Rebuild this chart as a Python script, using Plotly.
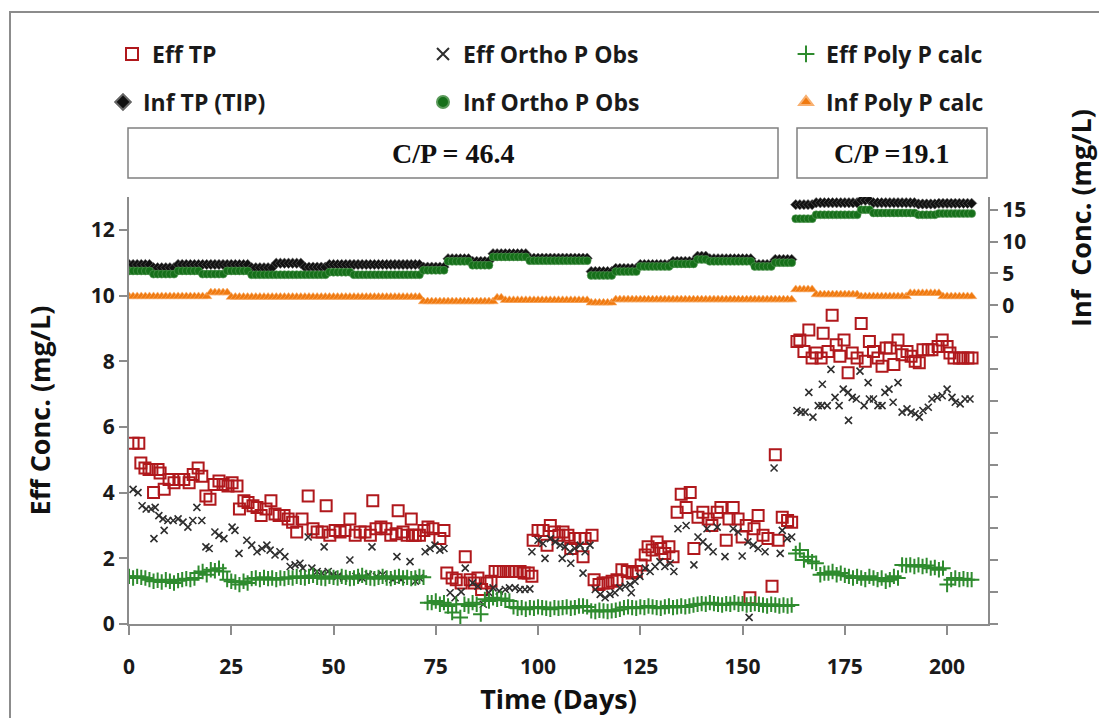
import plotly.graph_objects as go

# ---------------- data ----------------
DAYS = list(range(0, 207))

# Effluent total P (dark red open squares)
eff_tp_day = [1.0, 2.4, 2.9, 3.9, 4.9, 5.6, 6.0, 7.1, 7.6, 8.6, 9.8, 11.0, 12.2, 13.4, 14.7, 15.7, 16.9, 17.8, 18.8, 19.8,
              20.8, 22.0, 23.0, 24.2, 25.2, 26.4, 27.0, 28.1, 29.1, 30.3, 31.3, 32.3, 33.5, 34.7, 35.7, 36.7, 37.9, 38.9, 40.0, 41.0,
              42.3, 43.8, 45.0, 46.0, 47.2, 48.2, 49.1, 50.4, 51.6, 52.8, 54.0, 55.3, 56.5, 57.7, 59.0, 59.6, 60.4, 61.6, 62.8, 64.0,
              65.3, 65.8, 67.0, 68.0, 69.0, 69.3, 70.0, 71.0, 72.1, 73.1, 74.3, 76.0, 77.0, 77.7, 79.0, 80.0, 81.2, 82.2, 83.4, 84.4,
              85.3, 86.2, 87.5, 88.5, 89.5, 90.5, 91.5, 92.7, 93.6, 94.6, 95.6, 96.6, 97.6, 98.5, 98.8, 100.0, 101.2, 102.2, 103.0, 104.0,
              105.1, 106.1, 107.3, 108.0, 109.0, 110.3, 111.0, 111.5, 113.2, 113.7, 114.9, 115.9, 117.1, 118.1, 119.3, 120.5, 121.8, 123.0, 124.0, 125.2,
              126.2, 126.9, 127.9, 129.1, 130.0, 131.0, 132.0, 133.0, 134.0, 135.0, 136.2, 137.2, 138.1, 139.1, 140.3, 141.6, 142.5, 143.8, 144.7, 146.0,
              146.7, 147.7, 148.9, 149.9, 150.9, 151.8, 152.8, 153.8, 155.0, 156.2, 157.2, 158.0, 158.7, 159.7, 161.0, 162.0,
              163.3, 164.0, 165.0, 166.2, 167.0, 168.0, 169.2, 169.7, 170.9, 171.9, 172.9, 173.8, 174.8, 175.8, 176.8, 178.0, 179.0, 180.0, 181.0, 182.0,
              183.1, 184.1, 185.1, 186.1, 187.0, 188.0, 189.0, 190.2, 191.2, 192.2, 193.2, 194.1, 195.4, 196.3, 197.8, 198.8, 200.0, 200.7, 201.7, 203.0,
              203.9, 205.1, 206.1]
eff_tp_val = [5.5, 5.5, 4.9, 4.75, 4.7, 4.7, 4.0, 4.7, 4.6, 4.1, 4.4, 4.3, 4.4, 4.4, 4.3, 4.55, 4.75, 4.5, 3.9, 3.8,
              4.25, 4.35, 4.25, 4.2, 4.3, 4.2, 3.5, 3.75, 3.7, 3.6, 3.55, 3.3, 3.5, 3.75, 3.35, 3.3, 3.3, 3.2, 3.1, 2.8,
              3.2, 3.9, 2.9, 2.8, 2.8, 3.6, 2.7, 2.85, 2.8, 2.85, 3.2, 2.7, 2.8, 2.8, 2.7, 3.75, 2.9, 2.95, 2.9, 2.7,
              2.75, 3.45, 2.8, 2.7, 3.2, 2.7, 2.7, 2.7, 2.85, 2.95, 2.9, 2.6, 2.85, 1.55, 1.4, 1.35, 1.25, 2.05, 1.35, 1.25,
              1.4, 1.05, 1.25, 1.3, 1.6, 1.6, 1.6, 1.6, 1.6, 1.6, 1.6, 1.55, 1.55, 1.45, 2.55, 2.85, 2.85, 2.4, 3.0, 2.8,
              2.7, 2.8, 2.7, 2.3, 2.6, 2.6, 2.05, 2.6, 2.7, 1.35, 1.2, 1.25, 1.25, 1.3, 1.35, 1.65, 1.6, 1.55, 1.6, 1.8,
              2.1, 2.35, 2.25, 2.5, 2.3, 2.15, 2.35, 2.05, 3.4, 3.95, 3.55, 4.0, 2.3, 3.25, 3.4, 3.2, 3.0, 3.4, 3.55, 2.55,
              3.2, 3.55, 3.2, 2.65, 3.0, 0.8, 2.9, 3.3, 2.7, 2.6, 1.15, 5.15, 2.55, 3.25, 3.15, 3.1,
              8.6, 8.65, 8.3, 8.95, 8.1, 8.25, 8.1, 8.85, 8.3, 9.4, 8.5, 8.15, 8.65, 7.65, 8.25, 8.1, 9.15, 8.0, 8.6, 8.3,
              8.1, 7.85, 8.4, 8.4, 7.9, 8.65, 8.2, 8.3, 8.15, 8.0, 7.95, 8.35, 8.35, 8.35, 8.45, 8.65, 8.45, 8.25, 8.1, 8.1,
              8.1, 8.1, 8.1]

# Effluent ortho P observed (dark x)
eff_op_day = [1.0, 2.2, 3.2, 4.2, 5.4, 6.1, 6.4, 7.3, 8.3, 8.6, 9.5, 10.8, 12.0, 13.2, 14.4, 15.6, 16.6, 17.8, 18.8, 19.6,
              21.0, 22.0, 23.2, 25.2, 25.9, 26.9, 28.8, 30.0, 31.3, 32.5, 33.7, 34.5, 35.7, 36.9, 38.1, 39.4, 40.6, 41.8, 42.5, 43.8,
              44.7, 46.0, 47.2, 47.7, 48.7, 49.9, 51.0, 52.5, 54.0, 55.5, 57.0, 58.5, 59.4, 60.5, 62.0, 63.5, 64.5, 65.5, 66.5, 68.7,
              70.0, 71.0, 72.4, 73.6, 74.8, 76.0, 77.0, 78.5, 79.7, 81.2, 82.2, 84.0, 85.3, 86.6, 88.0, 89.0, 90.5, 92.0, 93.0, 94.4,
              95.6, 96.8, 98.0, 98.5, 100.0, 101.2, 101.7, 103.0, 104.2, 105.4, 105.9, 106.6, 107.8, 108.0, 109.0, 110.3, 111.0, 111.5, 112.7, 114.0,
              115.2, 116.4, 117.6, 118.8, 120.0, 121.3, 122.5, 122.8, 123.7, 124.9, 126.2, 127.4, 128.6, 129.8, 131.0, 132.3, 133.2, 134.2, 136.2, 138.1,
              139.1, 140.3, 141.3, 141.6, 142.8, 143.8, 145.7, 147.7, 148.9, 149.9, 151.3, 151.6, 152.6, 153.8, 155.5, 157.7, 159.2, 159.7, 160.9, 162.0,
              163.3, 164.3, 165.3, 166.2, 167.2, 168.5, 169.4, 169.5, 170.7, 171.6, 172.6, 173.6, 174.6, 175.8, 175.9, 176.8, 177.8, 178.7, 179.7, 180.7,
              181.0, 182.0, 183.1, 184.1, 184.8, 185.8, 186.8, 188.0, 189.0, 190.2, 191.2, 192.2, 193.2, 194.1, 195.4, 196.3, 197.6, 198.8, 200.0, 201.2,
              202.0, 203.2, 204.4, 205.6]
eff_op_val = [4.1, 4.0, 3.6, 3.5, 3.5, 2.6, 3.55, 3.3, 3.2, 2.85, 3.15, 3.15, 3.2, 3.1, 2.95, 3.15, 3.55, 3.15, 2.35, 2.3,
              2.8, 2.7, 2.6, 2.95, 2.85, 2.15, 2.55, 2.4, 2.2, 2.3, 2.4, 2.25, 2.1, 2.2, 2.05, 1.75, 1.8, 1.85, 1.7, 2.65,
              1.7, 1.6, 1.55, 2.35, 1.6, 1.5, 1.45, 1.4, 1.95, 1.45, 1.4, 1.5, 2.35, 1.45, 1.5, 1.4, 1.35, 2.05, 1.35, 1.9,
              1.3, 1.4, 2.2, 2.3, 2.4, 2.25, 2.3, 0.95, 0.8, 0.98, 1.7, 1.25, 1.15, 0.6, 0.95, 1.1, 1.0, 1.05, 1.1, 1.1,
              1.05, 1.05, 1.07, 2.2, 2.55, 2.45, 2.0, 2.6, 2.5, 2.4, 2.0, 2.35, 2.2, 1.85, 2.3, 2.4, 1.55, 2.2, 2.4, 1.05,
              0.9, 0.8, 0.9, 0.95, 1.1, 1.15, 1.2, 0.95, 1.3, 1.45, 1.7, 1.6, 1.75, 1.9, 1.75, 1.85, 1.6, 2.9, 3.0, 1.8,
              2.65, 2.5, 2.9, 2.35, 2.2, 2.95, 2.05, 2.9, 2.8, 2.07, 2.5, 0.2, 2.4, 2.3, 2.2, 4.75, 2.15, 2.85, 2.6, 2.65,
              6.5, 6.45, 6.45, 7.05, 6.3, 6.65, 6.65, 7.3, 6.65, 7.75, 6.9, 6.65, 7.15, 7.05, 6.2, 6.9, 6.85, 7.7, 6.65, 7.35,
              6.85, 6.85, 6.65, 6.65, 7.05, 7.15, 6.75, 7.35, 6.45, 6.55, 6.45, 6.4, 6.3, 6.5, 6.6, 6.85, 6.9, 6.95, 7.15, 6.9,
              6.75, 6.7, 6.85, 6.85]

# Effluent poly P calculated (green +), one value per day 0..206
eff_pp_val = [1.45, 1.40, 1.45, 1.42, 1.40,
              1.35, 1.30, 1.33, 1.28, 1.35, 1.30, 1.25, 1.32, 1.35, 1.38, 1.35, 1.40,
              1.55, 1.60, 1.50, 1.65, 1.62, 1.70, 1.60,
              1.35, 1.30, 1.28, 1.20, 1.30, 1.25,
              1.38, 1.40, 1.35, 1.42, 1.38, 1.40, 1.35, 1.40, 1.38, 1.42, 1.40,
              1.45, 1.42, 1.40, 1.45, 1.48, 1.42, 1.40, 1.38, 1.45, 1.42, 1.40, 1.45, 1.42, 1.38, 1.40, 1.45,
              1.48, 1.42, 1.40, 1.38, 1.42, 1.45, 1.40, 1.38, 1.42, 1.45, 1.40, 1.42, 1.38, 1.40, 1.45, 1.42,
              0.65, 0.65, 0.70, 0.60, 0.65,
              0.55, 0.35, 0.60,
              0.20, 0.60, 0.55, 0.65, 0.60, 0.30,
              0.75, 0.70, 0.80, 0.75, 0.78, 0.72, 0.70,
              0.52, 0.48, 0.50, 0.45, 0.50, 0.48, 0.52, 0.50, 0.48, 0.45, 0.50, 0.48, 0.50, 0.52, 0.48, 0.50, 0.55, 0.55, 0.52,
              0.40, 0.38, 0.42, 0.40, 0.38, 0.40, 0.42, 0.45,
              0.50, 0.52, 0.50, 0.48, 0.52, 0.50, 0.55, 0.52, 0.50, 0.48, 0.52, 0.55, 0.50, 0.52, 0.55, 0.52, 0.55, 0.58,
              0.60, 0.62, 0.60, 0.65, 0.62, 0.60, 0.58, 0.62, 0.60, 0.65, 0.60, 0.62, 0.58, 0.60, 0.62, 0.60, 0.58, 0.55,
              0.60, 0.58, 0.55, 0.58, 0.55, 0.58,
              2.15, 2.25, 1.95, 2.05, 1.90, 1.85, 1.50, 1.55,
              1.55, 1.60, 1.50, 1.55, 1.48, 1.45, 1.40, 1.45, 1.40, 1.35, 1.45, 1.40, 1.35, 1.40, 1.30, 1.35, 1.45, 1.40,
              1.80, 1.78, 1.80, 1.75, 1.80, 1.75, 1.78, 1.70, 1.72, 1.65, 1.70,
              1.20, 1.35, 1.40, 1.35, 1.38, 1.35, 1.35]

# Influent total P (TIP), right axis, one value per day 0..206
inf_tp_val = [6.4, 6.4, 6.4, 6.4, 6.4, 6.4,
              5.9, 5.9, 5.9, 5.9, 5.9, 5.9,
              6.4, 6.4, 6.4, 6.4, 6.4, 6.4, 6.4, 6.4, 6.4, 6.4, 6.4, 6.4, 6.4, 6.4, 6.4, 6.4, 6.4, 6.4,
              5.9, 5.9, 5.9, 5.9, 5.9, 5.9,
              6.6, 6.6, 6.6, 6.6, 6.6, 6.6, 6.6,
              6.0, 6.0, 6.0, 6.0, 6.0, 6.0,
              6.4, 6.4, 6.4, 6.4, 6.4, 6.4, 6.4, 6.4, 6.4, 6.4, 6.4, 6.4, 6.4, 6.4, 6.4, 6.4, 6.4, 6.4, 6.4, 6.4, 6.4, 6.4, 6.4,
              6.0, 6.0, 6.0, 6.0, 6.0, 6.0,
              7.3, 7.3, 7.3, 7.3, 7.3, 7.3,
              6.9, 6.9, 6.9, 6.9, 6.9,
              8.1, 8.1, 8.1, 8.1, 8.1, 8.1, 8.1, 8.1, 8.1,
              7.4, 7.4, 7.4, 7.4, 7.4, 7.4, 7.4, 7.4, 7.4, 7.4, 7.4, 7.4, 7.4, 7.4, 7.4,
              5.3, 5.3, 5.3, 5.3, 5.3, 5.3,
              5.8, 5.8, 5.8, 5.8, 5.8, 5.8,
              6.4, 6.4, 6.4, 6.4, 6.4, 6.4, 6.4, 6.4,
              6.9, 6.9, 6.9, 6.9, 6.9, 6.9,
              7.7, 7.7, 7.7,
              7.3, 7.3, 7.3, 7.3, 7.3, 7.3, 7.3, 7.3, 7.3, 7.3, 7.3,
              6.4, 6.4, 6.4, 6.4, 6.4,
              7.2, 7.2, 7.2, 7.2, 7.2,
              15.8, 15.8, 15.8, 15.8, 15.8,
              16.1, 16.1, 16.1, 16.1, 16.1, 16.1, 16.1, 16.1, 16.1, 16.1, 16.1,
              16.5, 16.5, 16.5,
              16.1, 16.1, 16.1, 16.1, 16.1, 16.1, 16.1, 16.1, 16.1, 16.1, 16.1,
              15.9, 15.9, 15.9, 15.9, 15.9,
              16.0, 16.0, 16.0, 16.0, 16.0, 16.0, 16.0, 16.0, 16.0]

# Influent ortho P observed, right axis, one value per day 0..206
inf_op_val = [5.4, 5.4, 5.4, 5.4, 5.4, 5.4,
              4.9, 4.9, 4.9, 4.9, 4.9, 4.9,
              5.4, 5.4, 5.4, 5.4, 5.4, 5.4,
              4.9, 4.9, 4.9, 4.9, 4.9, 4.9,
              5.4, 5.4, 5.4, 5.4, 5.4, 5.4,
              4.8, 4.8, 4.8, 4.8, 4.8, 4.8,
              4.8, 4.8, 4.8, 4.8, 4.8, 4.8, 4.8, 4.8, 4.8, 4.8, 4.8, 4.8, 4.8,
              5.2, 5.2, 5.2, 5.2, 5.2, 5.2,
              4.8, 4.8, 4.8, 4.8, 4.8,
              4.8, 4.8, 4.8, 4.8, 4.8, 4.8, 4.8, 4.8, 4.8, 4.8, 4.8, 4.8,
              5.5, 5.5, 5.5, 5.5, 5.5, 5.5,
              6.9, 6.9, 6.9, 6.9, 6.9, 6.9,
              6.3, 6.3, 6.3, 6.3, 6.3,
              7.6, 7.6, 7.6, 7.6, 7.6, 7.6, 7.6, 7.6, 7.6,
              7.0, 7.0, 7.0, 7.0, 7.0, 7.0, 7.0, 7.0, 7.0, 7.0, 7.0, 7.0, 7.0, 7.0, 7.0,
              4.7, 4.7, 4.7, 4.7, 4.7, 4.7,
              5.3, 5.3, 5.3, 5.3, 5.3, 5.3,
              6.1, 6.1, 6.1, 6.1, 6.1, 6.1, 6.1, 6.1,
              6.5, 6.5, 6.5, 6.5, 6.5, 6.5,
              7.2, 7.2, 7.2,
              6.9, 6.9, 6.9, 6.9, 6.9, 6.9, 6.9, 6.9, 6.9, 6.9, 6.9,
              6.1, 6.1, 6.1, 6.1, 6.1,
              6.7, 6.7, 6.7, 6.7, 6.7,
              13.6, 13.6, 13.6, 13.6, 13.6,
              14.2, 14.2, 14.2, 14.2, 14.2, 14.2, 14.2, 14.2, 14.2, 14.2, 14.2,
              15.0, 15.0, 15.0,
              14.5, 14.5, 14.5, 14.5, 14.5, 14.5, 14.5, 14.5, 14.5, 14.5, 14.5,
              14.2, 14.2, 14.2, 14.2, 14.2,
              14.4, 14.4, 14.4, 14.4, 14.4, 14.4, 14.4, 14.4, 14.4]

# Influent poly P calculated, right axis, one value per day 0..206
inf_pp_val = [1.4, 1.4, 1.4, 1.4, 1.4, 1.4, 1.4, 1.4, 1.4, 1.4, 1.4, 1.4, 1.4, 1.4, 1.4, 1.4, 1.4, 1.4, 1.4, 1.4,
              2.0, 2.0, 2.0, 2.0, 2.0,
              1.3, 1.3, 1.3, 1.3, 1.3, 1.3, 1.3, 1.3, 1.3, 1.3, 1.3, 1.3, 1.3, 1.3, 1.3, 1.3, 1.3, 1.3, 1.3, 1.3, 1.3, 1.3, 1.3,
              1.3, 1.3, 1.3, 1.3, 1.3, 1.3, 1.3, 1.3, 1.3, 1.3, 1.3, 1.3, 1.3, 1.3, 1.3, 1.3, 1.3, 1.3, 1.3, 1.3, 1.3, 1.3, 1.3, 1.3,
              0.6, 0.6, 0.6, 0.6, 0.6, 0.6, 0.6, 0.6, 0.6, 0.6, 0.6, 0.6, 0.6, 0.6, 0.6, 0.6, 0.6, 0.6,
              1.2, 1.2,
              0.8, 0.8, 0.8, 0.8, 0.8, 0.8, 0.8, 0.8, 0.8, 0.8, 0.8, 0.8, 0.8, 0.8, 0.8, 0.8, 0.8, 0.8, 0.8, 0.8, 0.8,
              0.4, 0.4, 0.4, 0.4, 0.4, 0.4,
              0.9, 0.9, 0.9, 0.9, 0.9, 0.9, 0.9, 0.9, 0.9, 0.9, 0.9, 0.9, 0.9, 0.9, 0.9, 0.9, 0.9, 0.9, 0.9, 0.9, 0.9, 0.9,
              0.9, 0.9, 0.9, 0.9, 0.9, 0.9, 0.9, 0.9, 0.9, 0.9, 0.9, 0.9, 0.9, 0.9, 0.9, 0.9, 0.9, 0.9, 0.9, 0.9, 0.9, 0.9,
              2.5, 2.5, 2.5, 2.5, 2.5,
              1.7, 1.7, 1.7, 1.7, 1.7, 1.7, 1.7, 1.7, 1.7, 1.7, 1.7,
              1.4, 1.4, 1.4, 1.4, 1.4, 1.4, 1.4, 1.4, 1.4, 1.4, 1.4, 1.4,
              1.9, 1.9, 1.9, 1.9, 1.9, 1.9, 1.9, 1.9,
              1.4, 1.4, 1.4, 1.4, 1.4, 1.4, 1.4, 1.4]

X_TICKS = [0, 25, 50, 75, 100, 125, 150, 175, 200]
Y_TICKS = [0, 2, 4, 6, 8, 10, 12]
Y2_TICKS = [-50, -45, -40, -35, -30, -25, -20, -15, -10, -5, 0, 5, 10, 15]
Y2_TEXT = ["", "", "", "", "", "", "", "", "", "", "0", "5", "10", "15"]
PERIOD_LABELS = ["C/P = 46.4", "C/P =19.1"]

# ---------------- styling ----------------
FONT = "Open Sans"
C_TP = "#B0181C"
C_OP = "#2E2E2E"
C_PP = "#2E8B2E"
C_ITP = "#111111"
C_IOP = "#16701A"
C_IPP = "#F07A10"

fig = go.Figure()

fig.add_trace(go.Scatter(x=eff_tp_day, y=eff_tp_val, mode="markers", name="Eff TP",
                         marker=dict(symbol="square-open", size=11, color=C_TP, line=dict(width=2, color=C_TP)),
                         legend="legend", legendwidth=266))
fig.add_trace(go.Scatter(x=eff_op_day, y=eff_op_val, mode="markers", name="Eff Ortho P Obs",
                         marker=dict(symbol="x-thin-open", size=7, color=C_OP, line=dict(width=1.6, color=C_OP)),
                         legend="legend", legendwidth=318))
fig.add_trace(go.Scatter(x=DAYS, y=eff_pp_val, mode="markers", name="Eff Poly P calc",
                         marker=dict(symbol="cross-thin-open", size=11, color=C_PP, line=dict(width=2, color=C_PP)),
                         legend="legend", legendwidth=160))
fig.add_trace(go.Scatter(x=DAYS, y=inf_tp_val, mode="markers", name="Inf TP (TIP)", yaxis="y2",
                         marker=dict(symbol="diamond", size=8, color=C_ITP, line=dict(width=0.6, color="#666")),
                         legend="legend2", legendwidth=275))
fig.add_trace(go.Scatter(x=DAYS, y=inf_op_val, mode="markers", name="Inf Ortho P Obs", yaxis="y2",
                         marker=dict(symbol="circle", size=8, color=C_IOP, line=dict(width=0.6, color="#5a9a5a")),
                         legend="legend2", legendwidth=318))
fig.add_trace(go.Scatter(x=DAYS, y=inf_pp_val, mode="markers", name="Inf Poly P calc", yaxis="y2",
                         marker=dict(symbol="triangle-up", size=9, color=C_IPP, line=dict(width=0.6, color="#F8B070")),
                         legend="legend2", legendwidth=160))

L, R, T, B = 129, 111, 197, 94
W, H = 1099, 718
pw, ph = W - L - R, H - T - B


def px(xp):
    return (xp - L) / pw


def py(yp):
    return (H - B - yp) / ph


legend_font = dict(family=FONT, size=23, color="#1a1a1a", weight="bold")

shapes = [
    # outer chart frame
    dict(type="rect", xref="paper", yref="paper", x0=px(10), x1=px(1110), y0=py(740), y1=py(12),
         line=dict(color="#8c8c8c", width=2), layer="below"),
    # period boxes
    dict(type="rect", xref="paper", yref="paper", x0=px(128), x1=px(778), y0=py(178), y1=py(128),
         line=dict(color="#808080", width=1.5)),
    dict(type="rect", xref="paper", yref="paper", x0=px(797), x1=px(987), y0=py(178), y1=py(128),
         line=dict(color="#808080", width=1.5)),
]

annotations = [
    dict(text="<b>" + PERIOD_LABELS[0] + "</b>", xref="paper", yref="paper", x=px(453), y=py(153),
         xanchor="center", yanchor="middle",
         showarrow=False, font=dict(family="Liberation Serif", size=28, color="#111")),
    dict(text="<b>" + PERIOD_LABELS[1] + "</b>", xref="paper", yref="paper", x=px(892), y=py(153),
         xanchor="center", yanchor="middle",
         showarrow=False, font=dict(family="Liberation Serif", size=28, color="#111")),
    dict(text="Inf  Conc. (mg/L)", xref="paper", yref="paper", x=px(1080), y=py(218),
         xanchor="center", yanchor="middle",
         showarrow=False, textangle=-90, font=dict(family=FONT, size=27, color="#111", weight="bold")),
]

fig.update_layout(
    width=W, height=H,
    margin=dict(l=L, r=R, t=T, b=B, autoexpand=False),
    paper_bgcolor="white", plot_bgcolor="white",
    shapes=shapes, annotations=annotations,
    legend=dict(orientation="h", x=px(112), xanchor="left", y=py(54), yanchor="middle",
                font=legend_font, itemsizing="constant", bgcolor="rgba(0,0,0,0)", tracegroupgap=0),
    legend2=dict(orientation="h", x=px(103), xanchor="left", y=py(102), yanchor="middle",
                 font=legend_font, itemsizing="constant", bgcolor="rgba(0,0,0,0)", tracegroupgap=0),
    xaxis=dict(range=[0, 210], tickvals=X_TICKS, ticks="outside", ticklen=9, tickwidth=2, tickcolor="#8c8c8c",
               showline=True, linecolor="#8c8c8c", linewidth=2, showgrid=False, zeroline=False,
               tickfont=dict(family=FONT, size=21, color="#1a1a1a", weight="bold"), ticklabelstandoff=14,
               title=dict(text="Time (Days)", font=dict(family=FONT, size=27, color="#111", weight="bold"), standoff=2)),
    yaxis=dict(range=[0, 13], tickvals=Y_TICKS, ticks="outside", ticklen=8, tickwidth=2, tickcolor="#8c8c8c",
               showline=True, linecolor="#8c8c8c", linewidth=2, showgrid=False, zeroline=False,
               tickfont=dict(family=FONT, size=21, color="#1a1a1a", weight="bold"),
               title=dict(text="Eff Conc. (mg/L)", font=dict(family=FONT, size=27, color="#111", weight="bold"), standoff=32)),
    yaxis2=dict(range=[-50, 17], overlaying="y", side="right", tickvals=Y2_TICKS, ticktext=Y2_TEXT,
                ticks="outside", ticklen=8, tickwidth=2, tickcolor="#8c8c8c",
                showline=True, linecolor="#8c8c8c", linewidth=2, showgrid=False, zeroline=False,
                tickfont=dict(family=FONT, size=21, color="#1a1a1a", weight="bold")),
)

fig.write_html("out.html")
